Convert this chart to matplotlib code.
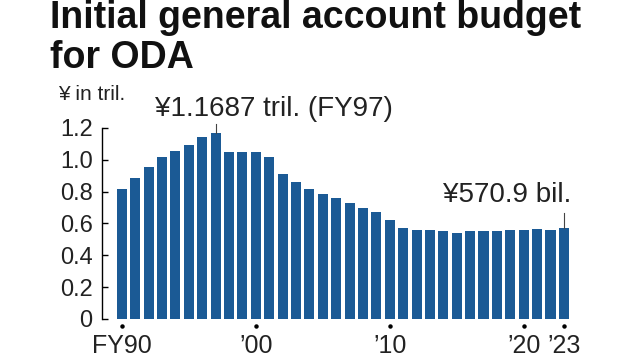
import matplotlib
matplotlib.use("Agg")
import matplotlib.pyplot as plt
import numpy as np

plt.rcParams['font.family'] = ['Liberation Sans', 'DejaVu Sans']

# ODA budget, trillion yen, FY1990 - FY2023
years = list(range(1990, 2024))
budget = [0.8175, 0.8860, 0.9522, 1.0144, 1.0559, 1.0953, 1.1417, 1.1687,
          1.0473, 1.0489, 1.0466, 1.0152, 0.9106, 0.8578, 0.8169, 0.7862,
          0.7597, 0.7293, 0.7002, 0.6722, 0.6187, 0.5727, 0.5612, 0.5573,
          0.5502, 0.5422, 0.5519, 0.5527, 0.5538, 0.5566, 0.5610, 0.5680,
          0.5612, 0.5709]
tick_years = [1990, 2000, 2010, 2020, 2023]
tick_labels = ['FY90', '’00', '’10', '’20', '’23']
yticks = [0, 0.2, 0.4, 0.6, 0.8, 1.0, 1.2]
ytick_labels = ['0', '0.2', '0.4', '0.6', '0.8', '1.0', '1.2']

fig = plt.figure(figsize=(6.4, 3.6), dpi=100)
ax = fig.add_axes([0.159, 0.114, 0.743, 0.5306])

x = np.arange(len(years))
ax.bar(x, budget, width=0.75, color='#1b5a95')

ax.set_xlim(-1.5, 34)
ax.set_ylim(0, 1.2)
ax.set_yticks(yticks)
ax.set_yticklabels(ytick_labels, fontsize=17, color='#222222')
ax.tick_params(axis='y', direction='in', length=4.5, width=1, pad=6.5)
ax.set_xticks([])
for s in ['top', 'right', 'bottom']:
    ax.spines[s].set_visible(False)
ax.spines['left'].set_linewidth(1)
ax.spines['left'].set_bounds(0, 1.2)

# tick dots and year labels
for yr, lab in zip(tick_years, tick_labels):
    i = years.index(yr)
    ax.plot(i, -0.044, 'o', color='black', markersize=2.2, clip_on=False)
    ax.text(i, -0.215, lab, ha='center', va='baseline', fontsize=18,
            color='#222222')

# annotations
i97 = years.index(1997)
ax.plot([i97, i97], [budget[i97], budget[i97] + 0.055], color='#444444', lw=0.8,
        clip_on=False)
fig.text(155 / 640, 1 - 116 / 360, '¥1.1687 tril. (FY97)', fontsize=20,
         va='baseline', color='#222222')

i23 = years.index(2023)
ax.plot([i23, i23], [budget[i23], budget[i23] + 0.094], color='#444444', lw=0.8)
fig.text(443 / 640, 1 - 202 / 360, '¥570.9 bil.', fontsize=20, va='baseline',
         color='#222222')

fig.text(58 / 640, 1 - 100 / 360, '¥ in tril.', fontsize=15, va='baseline',
         color='#222222')

fig.text(50 / 640, 1 - 28 / 360, 'Initial general account budget', fontsize=27,
         fontweight='bold', va='baseline', color='#111111')
fig.text(50 / 640, 1 - 68 / 360, 'for ODA', fontsize=27,
         fontweight='bold', va='baseline', color='#111111')

fig.savefig('out.png', dpi=100)
